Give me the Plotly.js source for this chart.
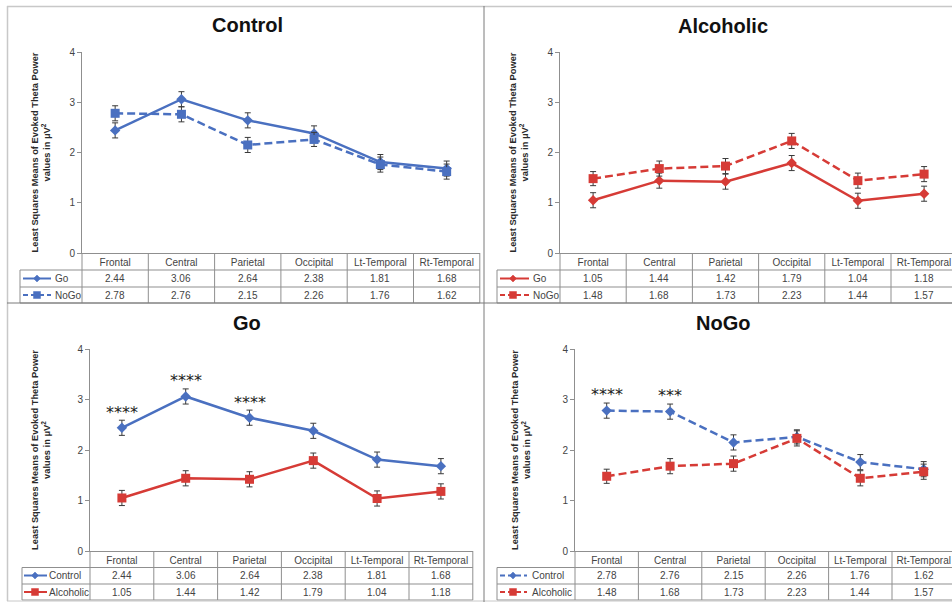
<!DOCTYPE html>
<html>
<head>
<meta charset="utf-8">
<script src="https://cdn.plot.ly/plotly-3.0.1.min.js"></script>
<style>html,body{margin:0;padding:0;background:#fff;}#chart{width:952px;height:602px;}</style>
</head>
<body>
<div id="chart"></div>
<script>
// ---------------- data ----------------
const regions = ['Frontal', 'Central', 'Parietal', 'Occipital', 'Lt-Temporal', 'Rt-Temporal'];
const controlGo = [2.44, 3.06, 2.64, 2.38, 1.81, 1.68];
const controlNoGo = [2.78, 2.76, 2.15, 2.26, 1.76, 1.62];
const alcoholicGo = [1.05, 1.44, 1.42, 1.79, 1.04, 1.18];
const alcoholicNoGo = [1.48, 1.68, 1.73, 2.23, 1.44, 1.57];
const controlGoErr = [0.15, 0.15, 0.15, 0.15, 0.15, 0.15];
const controlNoGoErr = [0.15, 0.15, 0.15, 0.14, 0.15, 0.15];
const alcoholicGoErr = [0.15, 0.15, 0.15, 0.15, 0.15, 0.15];
const alcoholicNoGoErr = [0.14, 0.15, 0.15, 0.15, 0.15, 0.15];
const goSig = ['****', '****', '****', '', '', ''];
const noGoSig = ['****', '***', '', '', '', ''];
const panelTitles = ['Control', 'Alcoholic', 'Go', 'NoGo'];
const yTitle = 'Least Squares Means of Evoked Theta Power<br>values in μV<sup>2</sup>';

// ---------------- styling ----------------
const W = 952, H = 602;
const fx = v => v / W;
const fy = v => 1 - v / H;
const BLUE = '#4a70c0', RED = '#d63b36';
const FONT = 'Liberation Sans, Arial, sans-serif';
const TABLE_LINE = '#8f8f8f';

const panels = [
  { title: panelTitles[0], ax: '', x0: 82, colW: 66.3, yTop: 52, yBot: 253, rows: [270, 287, 303], textY: [278.5, 295],
    legL: 20, lineX: [23, 51], markX: 37, labX: 53, titleX: 247, titleY: 25, standoff: 17,
    series: [
      { name: 'Go', y: controlGo, err: controlGoErr, color: BLUE, dash: 'solid', symbol: 'diamond' },
      { name: 'NoGo', y: controlNoGo, err: controlNoGoErr, color: BLUE, dash: '8px,4px', symbol: 'square' }
    ], sig: null },
  { title: panelTitles[1], ax: '2', x0: 560, colW: 66.2, yTop: 52, yBot: 253, rows: [270, 287, 303], textY: [278.5, 295],
    legL: 497, lineX: [500, 529], markX: 513, labX: 531, titleX: 723, titleY: 26, standoff: 17,
    series: [
      { name: 'Go', y: alcoholicGo, err: alcoholicGoErr, color: RED, dash: 'solid', symbol: 'diamond' },
      { name: 'NoGo', y: alcoholicNoGo, err: alcoholicNoGoErr, color: RED, dash: '8px,4px', symbol: 'square' }
    ], sig: null },
  { title: panelTitles[2], ax: '3', x0: 90, colW: 63.8, yTop: 349, yBot: 551, rows: [567.5, 584, 600], textY: [575.5, 592],
    legL: 22, lineX: [24, 47], markX: 35, labX: 47, titleX: 247, titleY: 323, standoff: 25,
    series: [
      { name: 'Control', y: controlGo, err: controlGoErr, color: BLUE, dash: 'solid', symbol: 'diamond' },
      { name: 'Alcoholic', y: alcoholicGo, err: alcoholicGoErr, color: RED, dash: 'solid', symbol: 'square' }
    ], sig: goSig },
  { title: panelTitles[3], ax: '4', x0: 575, colW: 63.4, yTop: 349, yBot: 551, rows: [567.5, 584, 600], textY: [575.5, 592],
    legL: 497, lineX: [500, 527], markX: 513, labX: 530, titleX: 723, titleY: 323, standoff: 30,
    series: [
      { name: 'Control', y: controlNoGo, err: controlNoGoErr, color: BLUE, dash: '8px,4px', symbol: 'diamond' },
      { name: 'Alcoholic', y: alcoholicNoGo, err: alcoholicNoGoErr, color: RED, dash: '8px,4px', symbol: 'square' }
    ], sig: noGoSig }
];

const traces = [];
const shapes = [];
const annotations = [];
const layout = {
  width: W, height: H,
  margin: { l: 0, r: 0, t: 0, b: 0 },
  paper_bgcolor: '#ffffff', plot_bgcolor: '#ffffff',
  showlegend: false,
  font: { family: FONT, color: '#333' }
};

panels.forEach(p => {
  const xName = 'x' + p.ax, yName = 'y' + p.ax;
  const right = Math.min(p.x0 + 6 * p.colW, W);
  const rangeEnd = -0.5 + (right - p.x0) / p.colW;

  layout['xaxis' + p.ax] = {
    domain: [fx(p.x0), fx(right)],
    anchor: yName,
    type: 'category',
    categoryorder: 'array', categoryarray: regions,
    range: [-0.5, rangeEnd],
    showline: true, linecolor: TABLE_LINE, linewidth: 1,
    ticks: '', showgrid: false, zeroline: false,
    tickfont: { family: FONT, size: 10, color: '#444' },
    fixedrange: true
  };
  layout['yaxis' + p.ax] = {
    domain: [fy(p.yBot), fy(p.yTop)],
    anchor: xName,
    range: [0, 4], dtick: 1, tick0: 0,
    showline: true, linecolor: TABLE_LINE, linewidth: 1,
    ticks: 'outside', ticklen: 4, tickcolor: TABLE_LINE,
    showgrid: false, zeroline: false,
    tickfont: { family: FONT, size: 10, color: '#444' },
    title: { text: '<b>' + yTitle + '</b>', standoff: p.standoff, font: { family: FONT, size: 9.3, color: '#2a2a2a' } },
    automargin: false,
    fixedrange: true
  };

  // data traces
  p.series.forEach(s => {
    traces.push({
      type: 'scatter', mode: 'lines+markers',
      x: regions, y: s.y, name: s.name,
      xaxis: xName, yaxis: yName,
      line: { color: s.color, width: 2.5, dash: s.dash },
      marker: { symbol: s.symbol, size: s.symbol === 'square' ? 9 : 8, color: s.color },
      error_y: { type: 'data', array: s.err, visible: true, color: '#3a3a3a', thickness: 1, width: 3 },
      cliponaxis: false
    });
  });

  // significance stars
  if (p.sig) {
    p.sig.forEach((t, i) => {
      if (!t) return;
      const top = Math.max(p.series[0].y[i] + p.series[0].err[i], p.series[1].y[i] + p.series[1].err[i]);
      annotations.push({
        xref: xName, yref: yName, x: regions[i], y: top + 0.16,
        text: t, showarrow: false, xanchor: 'center', yanchor: 'middle',
        font: { family: 'DejaVu Sans, sans-serif', size: 16, color: '#222' }
      });
    });
  }

  // panel title
  annotations.push({
    xref: 'paper', yref: 'paper', x: fx(p.titleX), y: fy(p.titleY),
    text: '<b>' + p.title + '</b>', showarrow: false, xanchor: 'center', yanchor: 'middle',
    font: { family: FONT, size: 20, color: '#111' }
  });

  // table grid
  const bottom = p.rows[2];
  for (let k = 0; k <= 6; k++) {
    const xv = p.x0 + k * p.colW;
    if (xv > W) break;
    shapes.push({ type: 'line', xref: 'paper', yref: 'paper', x0: fx(xv), x1: fx(xv), y0: fy(p.yBot), y1: fy(bottom),
      line: { color: TABLE_LINE, width: 1 } });
  }
  shapes.push({ type: 'line', xref: 'paper', yref: 'paper', x0: fx(p.legL), x1: fx(p.legL), y0: fy(p.rows[0]), y1: fy(bottom),
    line: { color: TABLE_LINE, width: 1 } });
  p.rows.forEach(r => {
    shapes.push({ type: 'line', xref: 'paper', yref: 'paper', x0: fx(p.legL), x1: fx(right), y0: fy(r), y1: fy(r),
      line: { color: TABLE_LINE, width: 1 } });
  });

  // table rows: legend key + values
  p.series.forEach((s, r) => {
    const cy = p.textY[r];
    shapes.push({ type: 'line', xref: 'paper', yref: 'paper', x0: fx(p.lineX[0]), x1: fx(p.lineX[1]), y0: fy(cy), y1: fy(cy),
      line: { color: s.color, width: 2, dash: s.dash === 'solid' ? 'solid' : '5px,3px' } });
    const m = 3.5;
    const c = p.markX;
    const path = s.symbol === 'square'
      ? `M ${fx(c - m)} ${fy(cy - m)} L ${fx(c + m)} ${fy(cy - m)} L ${fx(c + m)} ${fy(cy + m)} L ${fx(c - m)} ${fy(cy + m)} Z`
      : `M ${fx(c - m)} ${fy(cy)} L ${fx(c)} ${fy(cy - m)} L ${fx(c + m)} ${fy(cy)} L ${fx(c)} ${fy(cy + m)} Z`;
    shapes.push({ type: 'path', xref: 'paper', yref: 'paper', path: path, fillcolor: s.color, line: { color: s.color, width: 0.5 } });
    annotations.push({
      xref: 'paper', yref: 'paper', x: fx(p.labX), y: fy(cy),
      text: s.name, showarrow: false, xanchor: 'left', yanchor: 'middle',
      font: { family: FONT, size: 10, color: '#444' }
    });
    s.y.forEach((v, i) => {
      annotations.push({
        xref: xName, yref: 'paper', x: regions[i], y: fy(cy),
        text: v.toFixed(2), showarrow: false, xanchor: 'center', yanchor: 'middle',
        font: { family: FONT, size: 10, color: '#444' }
      });
    });
  });
});

// outer frame and panel dividers
const FRAME = '#c8c8c8', DIV = '#7a7a7a';
shapes.push({ type: 'line', xref: 'paper', yref: 'paper', x0: fx(7), x1: fx(W), y0: fy(6.5), y1: fy(6.5), line: { color: FRAME, width: 1.5 } });
shapes.push({ type: 'line', xref: 'paper', yref: 'paper', x0: fx(7.5), x1: fx(7.5), y0: fy(6), y1: fy(601), line: { color: FRAME, width: 1.5 } });
shapes.push({ type: 'line', xref: 'paper', yref: 'paper', x0: fx(7), x1: fx(W), y0: fy(601), y1: fy(601), line: { color: FRAME, width: 1 } });
shapes.push({ type: 'line', xref: 'paper', yref: 'paper', x0: fx(484), x1: fx(484), y0: fy(6), y1: fy(H), line: { color: DIV, width: 1 } });
shapes.push({ type: 'line', xref: 'paper', yref: 'paper', x0: fx(7), x1: fx(W), y0: fy(303), y1: fy(303), line: { color: DIV, width: 1 } });

layout.shapes = shapes;
layout.annotations = annotations;

Plotly.newPlot('chart', traces, layout, { staticPlot: true, displayModeBar: false });
</script>
</body>
</html>
